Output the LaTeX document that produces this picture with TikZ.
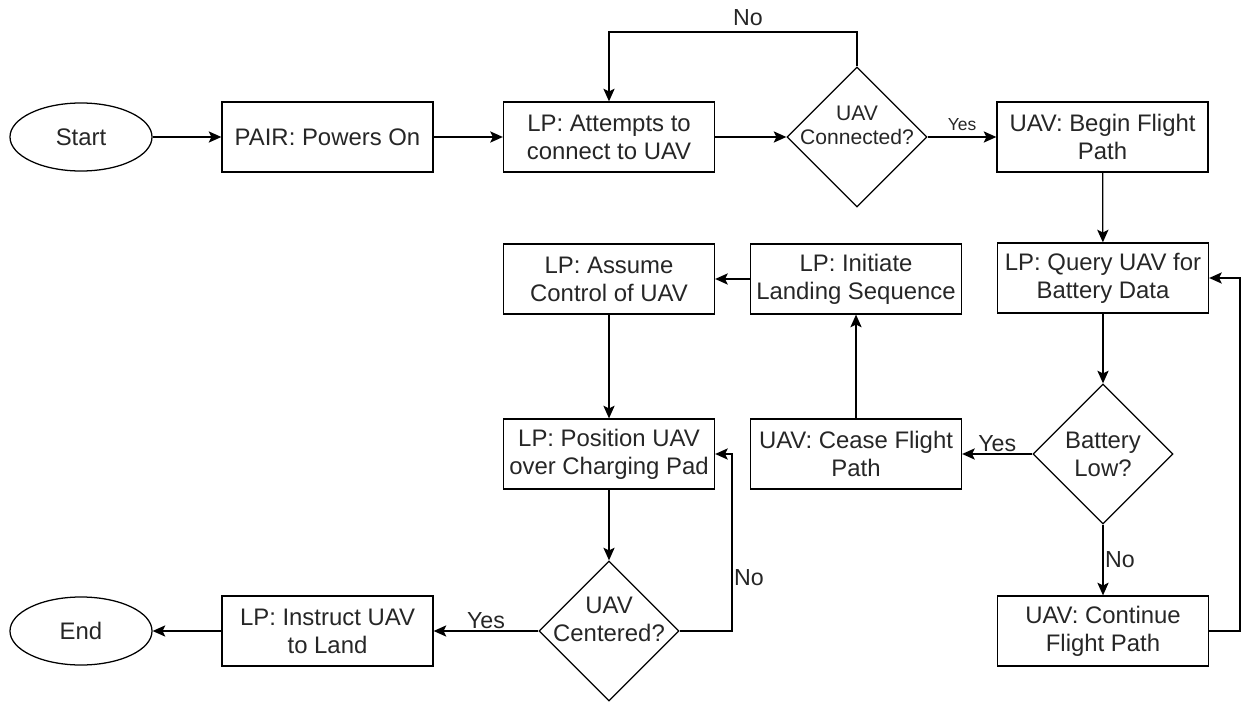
\documentclass[tikz,border=0pt]{standalone}
\usepackage{fontspec}
\setmainfont{Liberation Sans}
\usetikzlibrary{shapes.geometric,arrows.meta,calc}

\begin{document}
\begin{tikzpicture}[
  x=0.025cm, y=-0.025cm,
  every node/.style={text=black!85},
  every path/.style={line width=0.9pt},
  arr/.style={-{Stealth[length=9pt,width=8pt,inset=2pt]}},
  term/.style={draw, ellipse, minimum width=3.55cm, minimum height=1.7cm, font=\fontsize{17}{20}\selectfont},
  proc/.style={draw, minimum width=5.275cm, minimum height=1.75cm, inner sep=2pt, align=center, font=\fontsize{17}{20}\selectfont},
  dec/.style={draw, diamond, minimum width=3.5cm, minimum height=3.5cm, inner sep=0pt},
  dectxt/.style={align=center, inner sep=0pt, font=\fontsize{17}{20}\selectfont},
  lbl/.style={font=\fontsize{16.5}{18}\selectfont, inner sep=1pt}
]
  \useasboundingbox (0,0) rectangle (1243,702);

  \node[term] (start) at (81,137) {Start};
  \node[proc] (pair) at (327.5,137) {PAIR: Powers On};
  \node[proc] (connect) at (609,137) {LP: Attempts to\\connect to UAV};
  \node[dec, label={[dectxt, font=\fontsize{15}{17}\selectfont, yshift=8.5pt]center:UAV\\Connected?}] (conn) at (857,137) {};
  \node[proc] (begin) at (1102.5,137) {UAV: Begin Flight\\Path};

  \node[proc] (query) at (1103,278) {LP: Query UAV for\\Battery Data};
  \node[dec, label={[dectxt]center:Battery\\Low?}] (battery) at (1103,454) {};
  \node[proc] (cont) at (1103,631) {UAV: Continue\\Flight Path};

  \node[proc] (cease) at (856,454) {UAV: Cease Flight\\Path};
  \node[proc] (initiate) at (856,279) {LP: Initiate\\Landing Sequence};
  \node[proc] (assume) at (609,279) {LP: Assume\\Control of UAV};
  \node[proc] (position) at (609,454) {LP: Position UAV\\over Charging Pad};
  \node[dec, label={[dectxt, yshift=8.5pt]center:UAV\\Centered?}] (centered) at (609,631) {};
  \node[proc] (instruct) at (327.5,631) {LP: Instruct UAV\\to Land};
  \node[term] (end) at (81,631) {End};

  \coordinate (topline) at (0,32);
  \coordinate (rline) at (1240,0);
  \coordinate (cline) at (732,0);

  \draw[arr] (start) -- (pair);
  \draw[arr] (pair) -- (connect);
  \draw[arr] (connect) -- (conn);
  \draw[arr] (conn) -- node[above, font=\fontsize{12.4}{14}\selectfont, inner sep=4pt] {Yes} (begin);
  \draw[arr] (conn.north) -- (conn.north |- topline) -| node[lbl, pos=0.22, above=3pt] {No} (connect.north);
  \draw[arr] (begin) -- (query);
  \draw[arr] (query) -- (battery);
  \draw[arr] (battery) -- node[lbl, above] {Yes} (cease);
  \draw[arr] (battery) -- node[lbl, right] {No} (cont);
  \draw[arr] (cont.east) -- (cont.east -| rline) |- (query.east);
  \draw[arr] (cease) -- (initiate);
  \draw[arr] (initiate) -- (assume);
  \draw[arr] (assume) -- (position);
  \draw[arr] (position) -- (centered);
  \draw[arr] (centered.east) -- (centered.east -| cline) |- node[lbl, pos=0.15, right] {No} (position.east);
  \draw[arr] (centered) -- node[lbl, above] {Yes} (instruct);
  \draw[arr] (instruct) -- (end);
\end{tikzpicture}
\end{document}
